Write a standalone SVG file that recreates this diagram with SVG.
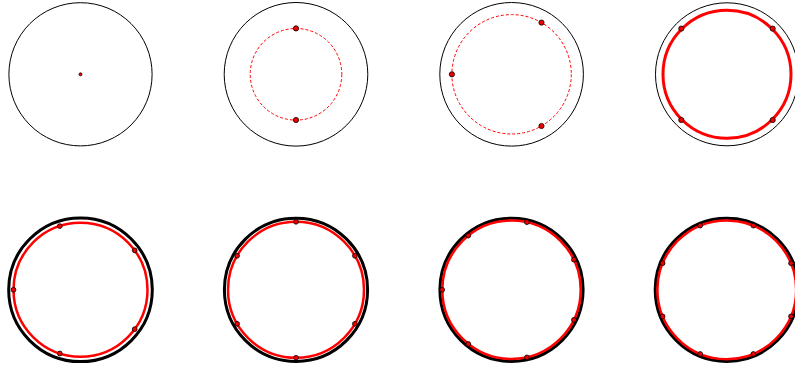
<svg xmlns="http://www.w3.org/2000/svg" width="795" height="368" viewBox="0 0 795 368">
<style>
.outer{fill:none;stroke:#000;stroke-width:1}
.outer2{fill:none;stroke:#000;stroke-width:3}
.dash{fill:none;stroke:#f00;stroke-width:1;stroke-dasharray:3,2}
.ring{fill:none;stroke:#f00;stroke-width:3}
.ring2{fill:none;stroke:#f00;stroke-width:2.5}
.pt{fill:#e00;stroke:#000;stroke-width:0.8}
</style>
<rect width="795" height="368" fill="#fff"/>
<g id="n1">
<circle class="outer" cx="80.5" cy="74.3" r="71.6"/>
<circle class="pt" cx="80.5" cy="74.3" r="1.5" stroke-width="0.5"/>
</g>
<g id="n2">
<circle class="outer" cx="296" cy="74.3" r="71.8"/>
<circle class="dash" cx="296" cy="74.3" r="45.8"/>
<circle class="pt" cx="296" cy="28.4" r="2.6"/>
<circle class="pt" cx="296" cy="120" r="2.6"/>
</g>
<g id="n3">
<circle class="outer" cx="511.6" cy="74.3" r="71.8"/>
<circle class="dash" cx="511.6" cy="74.3" r="59.7"/>
<circle class="pt" cx="451.9" cy="74.3" r="2.6"/>
<circle class="pt" cx="541.5" cy="22.6" r="2.6"/>
<circle class="pt" cx="541.5" cy="126" r="2.6"/>
</g>
<g id="n4">
<circle class="outer" cx="727" cy="74.3" r="71.5"/>
<circle class="ring" cx="727" cy="74.3" r="64"/>
<circle class="pt" cx="681.3" cy="28.6" r="2.6"/>
<circle class="pt" cx="772.7" cy="28.6" r="2.6"/>
<circle class="pt" cx="681.3" cy="120" r="2.6"/>
<circle class="pt" cx="772.7" cy="120" r="2.6"/>
</g>
<g id="n5">
<circle class="outer2" cx="80.5" cy="289.8" r="71.8"/>
<circle class="ring2" cx="80.5" cy="289.8" r="67"/>
<circle class="pt" cx="13.5" cy="289.8" r="2.4"/>
<circle class="pt" cx="59.8" cy="226.1" r="2.4"/>
<circle class="pt" cx="134.7" cy="250.4" r="2.4"/>
<circle class="pt" cx="134.7" cy="329.2" r="2.4"/>
<circle class="pt" cx="59.8" cy="353.5" r="2.4"/>
</g>
<g id="n6">
<circle class="outer2" cx="296" cy="289.8" r="71.6"/>
<circle class="ring2" cx="296" cy="289.8" r="68"/>
<circle class="pt" cx="296" cy="221.8" r="2.4"/>
<circle class="pt" cx="296" cy="357.8" r="2.4"/>
<circle class="pt" cx="354.9" cy="255.8" r="2.4"/>
<circle class="pt" cx="237.1" cy="255.8" r="2.4"/>
<circle class="pt" cx="237.1" cy="323.8" r="2.4"/>
<circle class="pt" cx="354.9" cy="323.8" r="2.4"/>
</g>
<g id="n7">
<circle class="outer2" cx="511.5" cy="289.8" r="71.6"/>
<circle class="ring2" cx="511.5" cy="289.8" r="69.2"/>
<circle class="pt" cx="442.2" cy="289.8" r="2.4"/>
<circle class="pt" cx="468.3" cy="235.6" r="2.4"/>
<circle class="pt" cx="526.9" cy="222.2" r="2.4"/>
<circle class="pt" cx="573.9" cy="259.7" r="2.4"/>
<circle class="pt" cx="573.9" cy="319.9" r="2.4"/>
<circle class="pt" cx="526.9" cy="357.4" r="2.4"/>
<circle class="pt" cx="468.3" cy="344" r="2.4"/>
</g>
<g id="n8">
<circle class="outer2" cx="726.8" cy="289.8" r="71.6"/>
<circle class="ring2" cx="726.8" cy="289.8" r="69.4"/>
<circle class="pt" cx="791" cy="263.2" r="2.4"/>
<circle class="pt" cx="753.4" cy="225.6" r="2.4"/>
<circle class="pt" cx="700.2" cy="225.6" r="2.4"/>
<circle class="pt" cx="662.6" cy="263.2" r="2.4"/>
<circle class="pt" cx="662.6" cy="316.4" r="2.4"/>
<circle class="pt" cx="700.2" cy="354" r="2.4"/>
<circle class="pt" cx="753.4" cy="354" r="2.4"/>
<circle class="pt" cx="791" cy="316.4" r="2.4"/>
</g>
<g id="connectors"></g>
</svg>
